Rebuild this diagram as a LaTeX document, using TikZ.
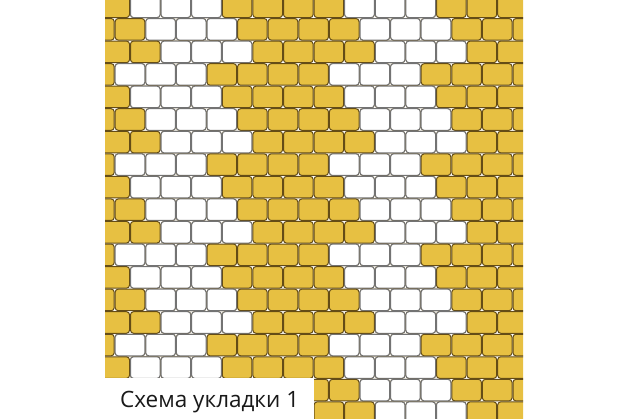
\documentclass[tikz,border=0pt]{standalone}
\usepackage{fontspec}
\usepackage{tikz}
\newfontfamily\schemefont{Open Sans}
\definecolor{brickyellow}{RGB}{231,192,66}
\definecolor{jointbrown}{RGB}{100,76,22}
\definecolor{jointgray}{RGB}{115,115,115}
\definecolor{captiontext}{RGB}{25,25,25}
\tikzstyle{brick}=[rounded corners=3pt, line width=1pt]
\tikzstyle{yellowbrick}=[brick, fill=brickyellow, draw=jointbrown]
\tikzstyle{whitebrick}=[brick, fill=white, draw=jointgray]
\tikzstyle{caption}=[font=\schemefont\fontsize{22.5}{22.5}\selectfont, text=captiontext, anchor=base west, inner sep=0pt]

\begin{document}
\begin{tikzpicture}[x=1pt, y=-1pt]
  \useasboundingbox (0,0) rectangle (634,419);
  \def\bw{30.6}
  \def\rowh{22.55}
  \begin{scope}
    \clip (105,0) rectangle (523,419);
    \foreach \r in {0,...,18} {
      \pgfmathsetmacro{\ytop}{-4.5+\r*\rowh}
      \pgfmathsetmacro{\xs}{130-mod(\r,2)*\bw/2}
      \pgfmathtruncatemacro{\q}{mod(\r,4)-4*(mod(\r,4)==3)}
      % yellow ground
      \foreach \k in {-1,...,14}
        \path[yellowbrick] (\xs+\k*\bw+0.5, \ytop+0.5) rectangle ++(\bw-1, \rowh-1);
      % white chevron bands
      \foreach \b in {0,1}
        \foreach \j in {0,1,2}
          \path[whitebrick] (130+\q*\bw/2+7*\b*\bw+\j*\bw+0.5, \ytop+0.5) rectangle ++(\bw-1, \rowh-1);
    }
  \end{scope}
  \fill[white] (105,378) rectangle (314,419);
  \node[caption] (scheme) at (120,407.5) {Схема укладки 1};
\end{tikzpicture}
\end{document}
